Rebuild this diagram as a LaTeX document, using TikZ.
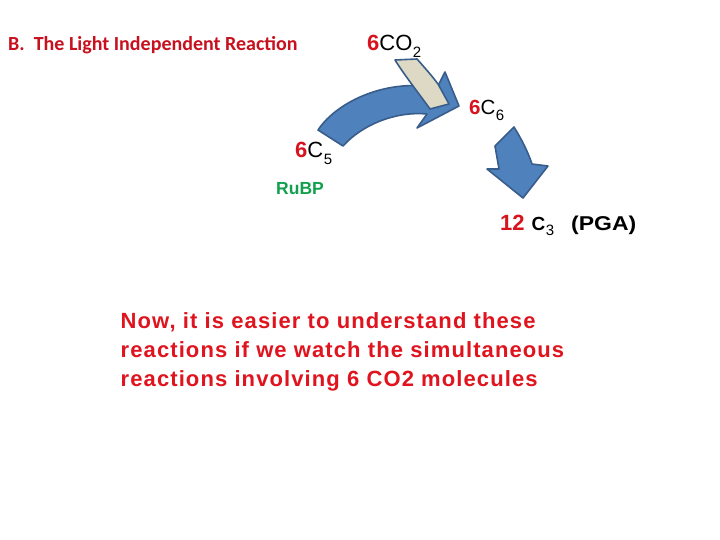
\documentclass[tikz,border=0pt]{standalone}
\usepackage{fontspec}
\newfontfamily\arialf{Liberation Sans}
\newfontfamily\arialsp{Liberation Sans}[LetterSpace=5.0]
\newfontfamily\calib{Carlito}
\definecolor{titlered}{HTML}{C8101E}
\definecolor{numred}{HTML}{D7141E}
\definecolor{txtred}{HTML}{E0141E}
\definecolor{rgreen}{HTML}{12A04E}
\definecolor{arrblue}{HTML}{4F81BD}
\definecolor{arredge}{HTML}{385D8A}
\definecolor{arrgray}{HTML}{DDD9C4}
\newcommand{\sbs}[1]{\hspace{0.5pt}\raisebox{-0.28em}{\fontsize{15}{15}\selectfont #1}}
\newcommand{\rnum}[1]{\textcolor{numred}{\bfseries #1}}
\tikzset{
  lbl/.style={inner sep=0pt, anchor=base west, font=\arialf\fontsize{22}{24}\selectfont},
  para/.style={inner sep=0pt, anchor=base west, text=txtred, font=\arialsp\bfseries\fontsize{22}{29}\selectfont},
  bluearrow/.style={fill=arrblue, draw=arredge, line width=1.6pt, line join=round},
  grayarrow/.style={fill=arrgray, draw=arredge, line width=1.6pt, line join=round}
}
\begin{document}
\begin{tikzpicture}[x=1pt,y=-1pt]
\useasboundingbox (0,0) rectangle (720,540);
\fill[white] (0,0) rectangle (720,540);
% curved blue arrow
\draw[bluearrow] (318,130) .. controls (338,100) and (390,78) .. (437,88)
  -- (445,72) -- (459,106) -- (417,128) -- (427,114)
  .. controls (395,111) and (362,125) .. (343,146) -- cycle;
% gray arrow
\draw[grayarrow] (395,60) -- (417,59) .. controls (425,68) and (432,76) .. (438,84)
  -- (449,104) -- (430,109) .. controls (420,95) and (405,76) .. cycle;
% small blue arrow
\draw[bluearrow] (495,146) -- (514,127) .. controls (522,140) and (528,152) .. (532,164)
  -- (548,166) -- (523,198) -- (487,169) -- (499,169) -- cycle;
% texts
\node[inner sep=0pt, anchor=base west, text=titlered, font=\calib\bfseries\fontsize{20}{24}\selectfont] (title) at (8,51) {B.\ \ The Light Independent Reaction};
\node[lbl] (co2) at (367,51) {\rnum{6}CO\sbs{2}};
\node[lbl, font=\arialf\fontsize{20.5}{24}\selectfont] (c6) at (469,115) {\rnum{6}C\sbs{6}};
\node[lbl] (c5) at (295,158) {\rnum{6}C\sbs{5}};
\node[inner sep=0pt, anchor=base west, text=rgreen, font=\arialf\bfseries\fontsize{17.5}{20}\selectfont] (rubp) at (276,195) {RuBP};
\node[lbl, font=\arialf\bfseries\fontsize{19}{24}\selectfont] (c3) at (500,230) {\textcolor{numred}{\fontsize{22}{24}\selectfont 12}\hspace{7pt}C{\mdseries\sbs{3}}\hspace{17pt}\scalebox{1.15}[1]{\fontsize{20}{24}\selectfont (PGA)}};
\node[para] (p1) at (120.5,328) {Now, it is easier to understand these};
\node[para] (p2) at (120.5,357) {reactions if we watch the simultaneous};
\node[para] (p3) at (120.5,386) {reactions involving 6 CO2 molecules};
\end{tikzpicture}
\end{document}
